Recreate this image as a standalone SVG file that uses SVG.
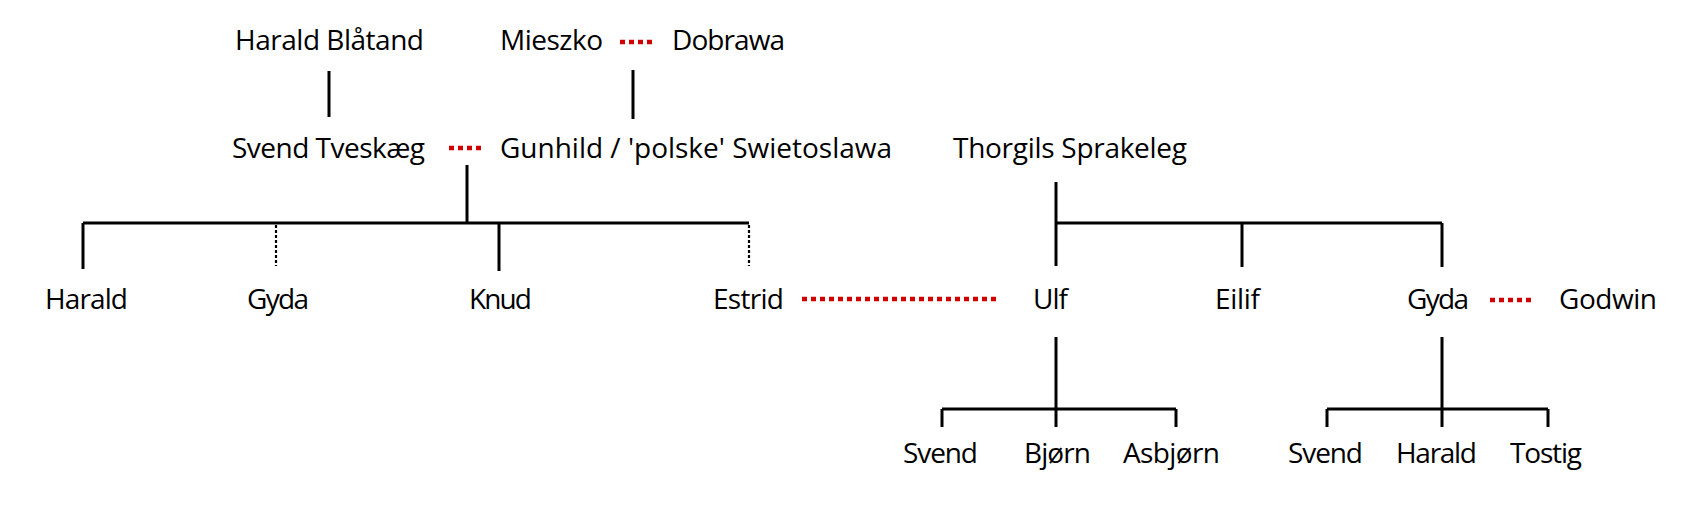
<svg xmlns="http://www.w3.org/2000/svg" width="1703" height="519" viewBox="0 0 1703 519">
<style>
text{font-family:"Open Sans","Liberation Sans",sans-serif;font-size:28px;fill:#000}
.l{stroke:#000;stroke-width:3;fill:none}
.d{stroke:#000;stroke-width:2.2;stroke-dasharray:3 2;fill:none}
.r{stroke:#d00000;stroke-width:4.5;stroke-dasharray:5 4;fill:none}
</style>
<rect width="1703" height="519" fill="#fff"/>
<g id="connectors">
<path class="l" d="M329,71V117M633,70V119M467,165V223M83,223H749M83,223V269M499,223V271"/>
<path class="d" d="M276,225V266M749,225V266"/>
<path class="l" d="M1056,182V266M1056,223H1442M1242,223V267M1442,223V267"/>
<path class="l" d="M1056,337V409M942,409H1176M942,409V427M1056,409V427M1176,409V427"/>
<path class="l" d="M1442,337V409M1327,409H1548M1327,409V427M1442,409V427M1548,409V427"/>
<path class="r" d="M620,42H652M449,148H481M802,299H997M1490,300H1535"/>
</g>
<g id="harald-blatand"><text x="235" y="50" textLength="189">Harald Blåtand</text></g>
<g id="mieszko"><text x="500" y="50" textLength="103">Mieszko</text></g>
<g id="dobrawa"><text x="672" y="50" textLength="113">Dobrawa</text></g>
<g id="svend-tveskaeg"><text x="232" y="158" textLength="193">Svend Tveskæg</text></g>
<g id="gunhild"><text x="500" y="158" textLength="392">Gunhild / 'polske' Swietoslawa</text></g>
<g id="thorgils"><text x="953" y="158" textLength="234">Thorgils Sprakeleg</text></g>
<g id="harald"><text x="45" y="309" textLength="83">Harald</text></g>
<g id="gyda1"><text x="247" y="309" textLength="62">Gyda</text></g>
<g id="knud"><text x="469" y="309" textLength="63">Knud</text></g>
<g id="estrid"><text x="713" y="309" textLength="71">Estrid</text></g>
<g id="ulf"><text x="1033" y="309" textLength="35">Ulf</text></g>
<g id="eilif"><text x="1215" y="309" textLength="45">Eilif</text></g>
<g id="gyda2"><text x="1407" y="309" textLength="62">Gyda</text></g>
<g id="godwin"><text x="1559" y="309" textLength="98">Godwin</text></g>
<g id="svend1"><text x="903" y="463" textLength="75">Svend</text></g>
<g id="bjorn"><text x="1024" y="463" textLength="67">Bjørn</text></g>
<g id="asbjorn"><text x="1123" y="463" textLength="97">Asbjørn</text></g>
<g id="svend2"><text x="1288" y="463" textLength="75">Svend</text></g>
<g id="harald2"><text x="1396" y="463" textLength="81">Harald</text></g>
<g id="tostig"><text x="1510" y="463" textLength="72">Tostig</text></g>
</svg>
